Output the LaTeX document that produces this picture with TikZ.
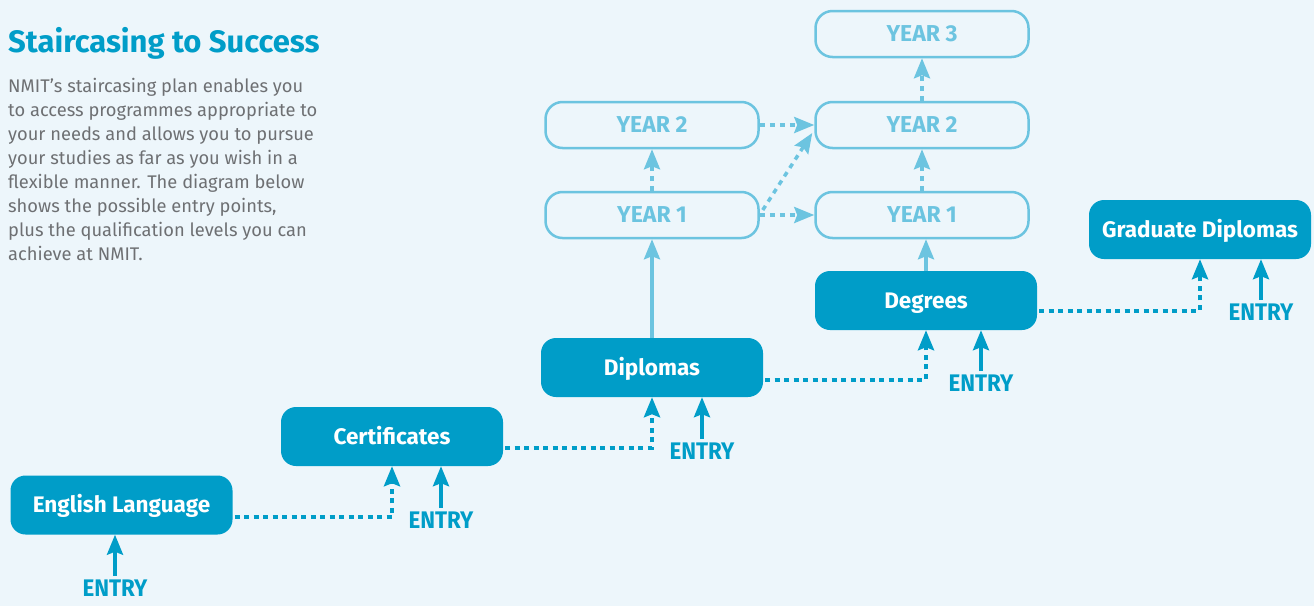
\documentclass[tikz,border=0pt]{standalone}
\usepackage{fontspec}
\setmainfont{Fira Sans}
\newfontfamily\entryfont[FakeStretch=0.93]{Fira Sans}
\usetikzlibrary{arrows.meta, calc}
\definecolor{bg}{RGB}{237,246,251}
\definecolor{nmitblue}{RGB}{0,157,200}
\definecolor{yearblue}{RGB}{108,196,224}
\definecolor{bodygrey}{RGB}{110,112,115}

\begin{document}
\begin{tikzpicture}[x = 1pt, y = -1pt,
	level/.style = {fill = nmitblue, rounded corners = 15pt, minimum width = 222pt, minimum height = 59pt,
		inner sep = 0pt, text = white, font = \fontsize{22.5}{22.5}\selectfont\bfseries,
		text height = 15.5pt, text depth = 0pt},
	year/.style = {draw = yearblue, line width = 2.5pt, fill = bg, rounded corners = 17pt,
		minimum width = 213pt, minimum height = 46pt, inner sep = 0pt, text = yearblue,
		font = \fontsize{23}{23}\selectfont\bfseries, text height = 15.8pt, text depth = 0pt},
	entry/.style = {text = nmitblue, font = \entryfont\fontsize{24}{24}\selectfont\bfseries, inner sep = 0pt,
		outer ysep = 4pt, text height = 16.5pt, text depth = 0pt, anchor = north},
	tip/.style = {-{Stealth[length = 20pt, width = 16pt, inset = 3pt]}},
	dots/.style = {tip, line width = 4pt, nmitblue, dash pattern = on 5pt off 4.5pt},
	go/.style = {tip, line width = 3.5pt, nmitblue},
	ydots/.style = {tip, line width = 3.5pt, yearblue, dash pattern = on 5pt off 5pt},
	ygo/.style = {tip, line width = 3.5pt, yearblue}]
		\fill [bg] (0, 0) rectangle (1314, 606);
		\useasboundingbox (0, 0) rectangle (1314, 606);
		%%%%%%%%%%%%% intro
		\node [anchor = base west, inner sep = 0pt, text = nmitblue, font = \fontsize{31}{31}\selectfont\bfseries]
			(title) at (8, 52) {Staircasing to Success};
		\foreach \line [count = \i] in {NMIT’s staircasing plan enables you, to access programmes appropriate to,
			your needs and allows you to pursue, your studies as far as you wish in a,
			flexible manner. The diagram below, {shows the possible entry points,},
			plus the qualification levels you can, achieve at NMIT.}
			\node [anchor = base west, inner sep = 0pt, text = bodygrey, font = \fontsize{18.3}{24}\selectfont]
				(txt\i) at (8, 68 + 24*\i) {\line};
		%%%%%%%%%%%%% levels
		\node [level] (eng) at (121.5, 505) {English Language};
		\node [level] (cert) at (392, 436.5) {Certificates};
		\node [level] (dipl) at (652, 367.5) {Diplomas};
		\node [level] (deg) at (926, 300.5) {Degrees};
		\node [level] (grad) at (1200, 229.5) {Graduate Diplomas};
		%%%%%%%%%%%%% years
		\node [year] (y2l) at (652, 125) {YEAR 2};
		\node [year] (y1l) at (652, 215) {YEAR 1};
		\node [year] (y3) at (922, 34) {YEAR 3};
		\node [year] (y2r) at (922, 125) {YEAR 2};
		\node [year] (y1r) at (922, 215) {YEAR 1};
		%%%%%%%%%%%%% entry points
		\node [entry] (en1) at (115, 576) {ENTRY};
		\node [entry] (en2) at (441, 508) {ENTRY};
		\node [entry] (en3) at (702, 439) {ENTRY};
		\node [entry] (en4) at (981, 371) {ENTRY};
		\node [entry] (en5) at (1261, 300) {ENTRY};
		\draw [go] (en1.north) -- (en1.north |- eng.south);
		\draw [go] (en2.north) -- (en2.north |- cert.south);
		\draw [go] (en3.north) -- (en3.north |- dipl.south);
		\draw [go] (en4.north) -- (en4.north |- deg.south);
		\draw [go] (en5.north) -- (en5.north |- grad.south);
		%%%%%%%%%%%%% staircase
		\draw [dots] ($(eng.east) + (2, 12)$) -| (cert.south);
		\draw [dots] ($(cert.east) + (2, 11)$) -| (dipl.south);
		\draw [dots] ($(dipl.east) + (2, 12)$) -| (deg.south);
		\draw [dots] ($(deg.east) + (2, 10)$) -| (grad.south);
		%%%%%%%%%%%%% year paths
		\draw [ygo] (dipl.north) -- (y1l.south);
		\draw [ygo] (deg.north) -- (deg.north |- y1r.south);
		\draw [ydots] (y1l.north) -- (y2l.south);
		\draw [ydots] (y1r.north) -- (y2r.south);
		\draw [ydots] (y2r.north) -- (y3.south);
		\draw [ydots] (y2l.east) -- (y2r.west);
		\draw [ydots] (y1l.east) -- (y1r.west);
		\draw [ydots] ($(y1l.east) + (3, -5)$) -- ($(y2r.west) + (-2, 8)$);
\end{tikzpicture}
\end{document}
